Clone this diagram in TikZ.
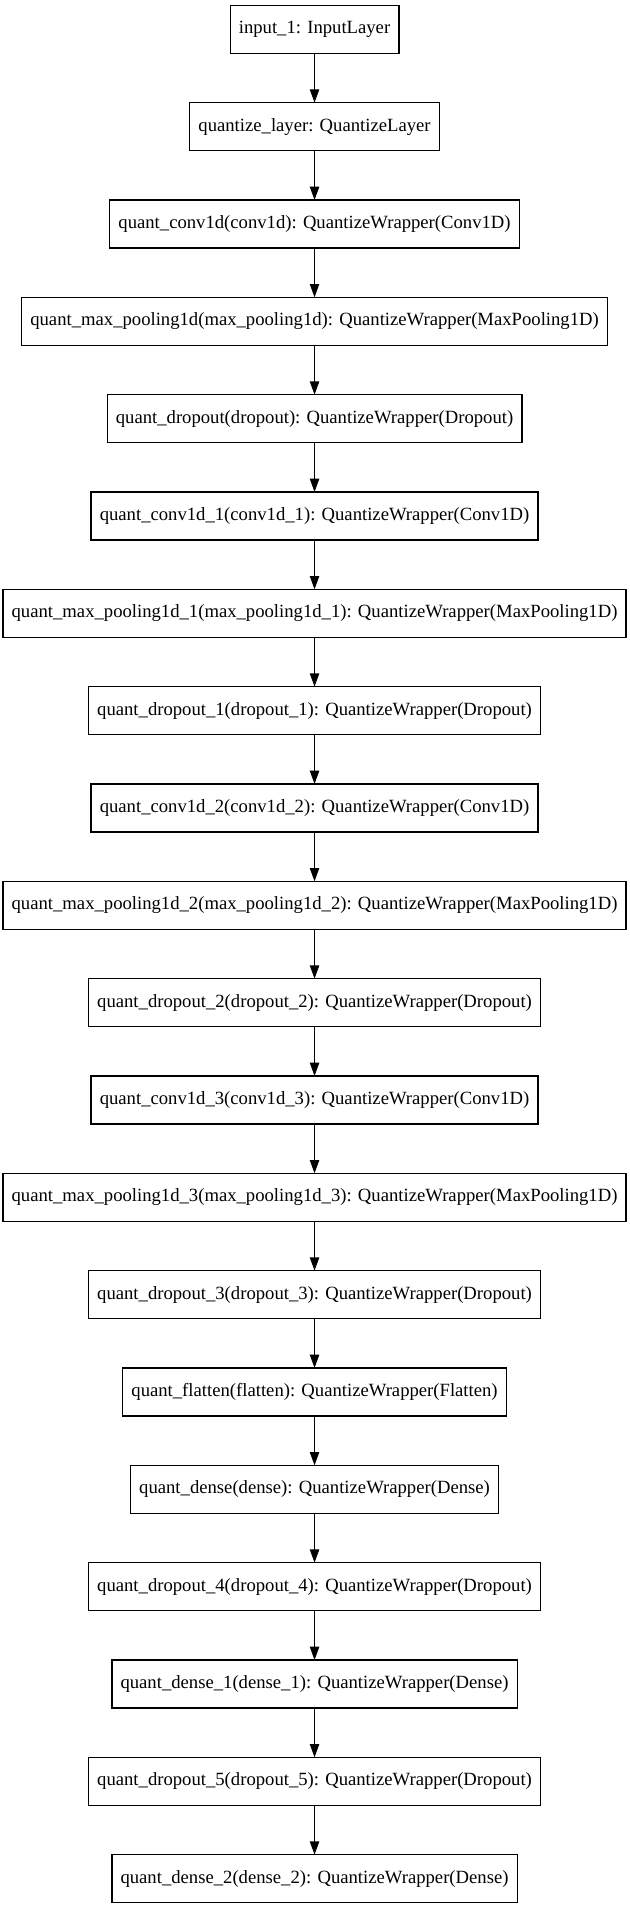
\documentclass[tikz,border=0pt]{standalone}
\usepackage{fontspec}
\setmainfont{Liberation Serif}
\usetikzlibrary{arrows.meta}
\tikzstyle{bordered} = [align=center,draw,line width=1pt,outer sep=0,inner xsep=6.5pt,minimum height=36pt,font=\fontsize{14pt}{16pt}\selectfont]
\tikzstyle{arrow} = [line width=1pt,-{Triangle[length=10pt,width=7pt]}]

\begin{document}
\begin{tikzpicture}[y=73pt]
    \useasboundingbox (-235.9pt,22pt) rectangle (235.9pt,-1409.75pt);
    \node [bordered] (v1) at (0,0) {input\_1: InputLayer};
    \node [bordered] (v2) at (0,-1) {quantize\_layer: QuantizeLayer};
    \node [bordered] (v3) at (0,-2) {quant\_conv1d(conv1d): QuantizeWrapper(Conv1D)};
    \node [bordered] (v4) at (0,-3) {quant\_max\_pooling1d(max\_pooling1d): QuantizeWrapper(MaxPooling1D)};
    \node [bordered] (v5) at (0,-4) {quant\_dropout(dropout): QuantizeWrapper(Dropout)};
    \node [bordered] (v6) at (0,-5) {quant\_conv1d\_1(conv1d\_1): QuantizeWrapper(Conv1D)};
    \node [bordered] (v7) at (0,-6) {quant\_max\_pooling1d\_1(max\_pooling1d\_1): QuantizeWrapper(MaxPooling1D)};
    \node [bordered] (v8) at (0,-7) {quant\_dropout\_1(dropout\_1): QuantizeWrapper(Dropout)};
    \node [bordered] (v9) at (0,-8) {quant\_conv1d\_2(conv1d\_2): QuantizeWrapper(Conv1D)};
    \node [bordered] (v10) at (0,-9) {quant\_max\_pooling1d\_2(max\_pooling1d\_2): QuantizeWrapper(MaxPooling1D)};
    \node [bordered] (v11) at (0,-10) {quant\_dropout\_2(dropout\_2): QuantizeWrapper(Dropout)};
    \node [bordered] (v12) at (0,-11) {quant\_conv1d\_3(conv1d\_3): QuantizeWrapper(Conv1D)};
    \node [bordered] (v13) at (0,-12) {quant\_max\_pooling1d\_3(max\_pooling1d\_3): QuantizeWrapper(MaxPooling1D)};
    \node [bordered] (v14) at (0,-13) {quant\_dropout\_3(dropout\_3): QuantizeWrapper(Dropout)};
    \node [bordered] (v15) at (0,-14) {quant\_flatten(flatten): QuantizeWrapper(Flatten)};
    \node [bordered] (v16) at (0,-15) {quant\_dense(dense): QuantizeWrapper(Dense)};
    \node [bordered] (v17) at (0,-16) {quant\_dropout\_4(dropout\_4): QuantizeWrapper(Dropout)};
    \node [bordered] (v18) at (0,-17) {quant\_dense\_1(dense\_1): QuantizeWrapper(Dense)};
    \node [bordered] (v19) at (0,-18) {quant\_dropout\_5(dropout\_5): QuantizeWrapper(Dropout)};
    \node [bordered] (v20) at (0,-19) {quant\_dense\_2(dense\_2): QuantizeWrapper(Dense)};
    \draw [arrow] (v1) edge (v2);
    \draw [arrow] (v2) edge (v3);
    \draw [arrow] (v3) edge (v4);
    \draw [arrow] (v4) edge (v5);
    \draw [arrow] (v5) edge (v6);
    \draw [arrow] (v6) edge (v7);
    \draw [arrow] (v7) edge (v8);
    \draw [arrow] (v8) edge (v9);
    \draw [arrow] (v9) edge (v10);
    \draw [arrow] (v10) edge (v11);
    \draw [arrow] (v11) edge (v12);
    \draw [arrow] (v12) edge (v13);
    \draw [arrow] (v13) edge (v14);
    \draw [arrow] (v14) edge (v15);
    \draw [arrow] (v15) edge (v16);
    \draw [arrow] (v16) edge (v17);
    \draw [arrow] (v17) edge (v18);
    \draw [arrow] (v18) edge (v19);
    \draw [arrow] (v19) edge (v20);
  \end{tikzpicture}
\end{document}
